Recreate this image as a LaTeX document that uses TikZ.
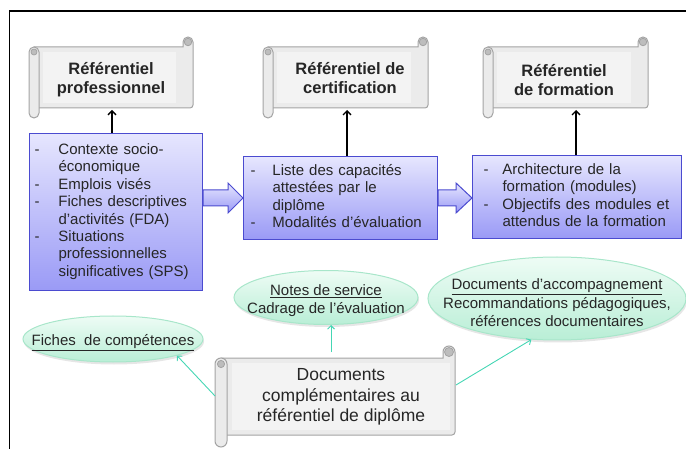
\documentclass[tikz,border=0pt]{standalone}
\usepackage{fontspec}
\setmainfont{Liberation Sans}
\usetikzlibrary{arrows.meta,shadows,shapes.geometric,calc}
\definecolor{txt}{HTML}{262626}
\definecolor{bluetop}{HTML}{E6E6FE}
\definecolor{bluebot}{HTML}{9A9AF6}
\definecolor{blueline}{HTML}{4B4BD0}
\definecolor{scrfill}{HTML}{EBEBEB}
\definecolor{scrinner}{HTML}{F3F3F3}
\definecolor{scrline}{HTML}{A3A3A3}
\definecolor{curlc}{HTML}{BDBDBD}
\definecolor{mintline}{HTML}{A8E6CA}
\definecolor{minttop}{HTML}{EEFCF5}
\definecolor{mintbot}{HTML}{B9EED6}
\definecolor{tealc}{HTML}{45D6B4}
\newcommand\scrolldeco[7]{%
  \pgfmathsetmacro\sxa{#1}%
  \pgfmathsetmacro\sxb{#1+2*#5}%
  \pgfmathsetmacro\sxc{#3-2*#5}%
  \pgfmathsetmacro\sxd{#3}%
  \pgfmathsetmacro\sya{#2}%
  \pgfmathsetmacro\syb{#4}%
  \pgfmathsetmacro\sr{#5}%
  \pgfmathsetmacro\scr{0.6*#5}%
  \pgfmathsetmacro\scrr{0.75*#5}%
  \draw[scrline, line width=1pt, fill=scrfill] (\sxb-\sr,\sya) -- (\sxc,\sya) -- (\sxc,\sya-\sr)
     arc[start angle=180,end angle=0,radius=\sr pt] [rounded corners=3pt] -- (\sxd,\syb)
     -- (\sxb-\sr,\syb) [sharp corners] -- cycle;
  \fill[scrinner] (\sxb+#6,\sya+5) rectangle (\sxd-#7,\syb-5);
  \draw[scrline, line width=1pt, fill=scrfill] (\sxa,\sya+\sr) arc[start angle=180,end angle=0,radius=\sr pt]
     -- (\sxb,\syb+\sr) arc[start angle=0,end angle=-180,radius=\sr pt] -- cycle;
  \draw[scrline, line width=0.8pt, fill=curlc] (\sxa+\sr,\sya+\sr) circle[radius=\scr pt];
  \draw[scrline, line width=0.8pt, fill=curlc] (\sxd-\sr,\sya-\sr) circle[radius=\scrr pt];
}
\tikzset{
  every node/.style={text=txt},
  titletext/.style={font=\fontsize{16.5}{19}\selectfont\bfseries, align=center, inner sep=0pt},
  bigtitle/.style={font=\fontsize{17.5}{20.5}\selectfont, align=center, inner sep=0pt},
  bluebox/.style={draw=blueline, line width=1pt, top color=bluetop, bottom color=bluebot,
     inner ysep=0pt, align=left, font=\fontsize{15}{17.4}\selectfont, anchor=north west},
  blockarr/.style={draw=blueline, line width=1pt, top color=bluetop, bottom color=bluebot, line join=miter},
  mint/.style={ellipse, draw=mintline, line width=1pt, top color=minttop, bottom color=mintbot,
     inner xsep=-30pt, inner ysep=-10pt, font=\fontsize{15}{18.5}\selectfont,
     drop shadow={opacity=0.2, shadow xshift=1pt, shadow yshift=-2.5pt}},
  blk/.style={draw=black, line width=1.3pt, -{Straight Barb[length=4pt,width=8pt]}},
  tealarr/.style={draw=tealc, line width=0.9pt, -{Straight Barb[length=3.5pt,width=7pt]}},
}
\begin{document}
\begin{tikzpicture}[x=1pt,y=-1pt]
\useasboundingbox (0,0) rectangle (686,449);
% frame
\draw[line width=1.2pt] (9.5,449) -- (9.5,11) -- (686,11);

% scrolls
\scrolldeco{29}{47}{193}{108}{5}{4}{17}
\scrolldeco{263}{47}{428}{108}{5}{4}{17}
\scrolldeco{483}{47}{648}{108}{5}{4}{17}
\scrolldeco{215}{358}{455}{435}{6}{5}{5}
\node[titletext] (s1) at (111,80) {Référentiel\\professionnel};
\node[titletext] (s2) at (350,78) {Référentiel de\\certification};
\node[titletext] (s3) at (564,80) {Référentiel\\de formation};
\node[bigtitle] (s4) at (341,397) {Documents\\complémentaires au\\référentiel de diplôme};

% blue boxes
\node[bluebox, minimum width=173pt, minimum height=157pt, inner xsep=5pt, text width=163pt] (b1) at (29,133)
 {\begin{tabular}{@{}p{24pt}@{}l@{}}
 - & Contexte socio-\\
   & économique\\
 - & Emplois visés\\
 - & Fiches descriptives\\
   & d’activités (FDA)\\
 - & Situations\\
   & professionnelles\\
   & significatives (SPS)
 \end{tabular}};
\node[bluebox, minimum width=194pt, minimum height=83pt, inner xsep=7pt, text width=180pt] (b2) at (243,156)
 {\begin{tabular}{@{}p{22pt}@{}l@{}}
 - & Liste des capacités\\
   & attestées par le\\
   & diplôme\\
 - & Modalités d’évaluation
 \end{tabular}};
\node[bluebox, minimum width=209pt, minimum height=83pt, inner xsep=11pt, text width=187pt] (b3) at (472,155)
 {\begin{tabular}{@{}p{19pt}@{}l@{}}
 - & Architecture de la\\
   & formation (modules)\\
 - & Objectifs des modules et\\
   & attendus de la formation
 \end{tabular}};

% block arrows
\draw[blockarr] ($(b1.east |- b2.west)+(0,-8)$) -- ($(b2.west)+(-15,-8)$) -- ($(b2.west)+(-15,-15)$)
  -- (b2.west) -- ($(b2.west)+(-15,15)$) -- ($(b2.west)+(-15,8)$) -- ($(b1.east |- b2.west)+(0,8)$) -- cycle;
\draw[blockarr] ($(b2.east)+(0,-8)$) -- ($(b3.west |- b2.east)+(-16,-8)$) -- ($(b3.west |- b2.east)+(-16,-15)$)
  -- (b3.west |- b2.east) -- ($(b3.west |- b2.east)+(-16,15)$) -- ($(b3.west |- b2.east)+(-16,8)$) -- ($(b2.east)+(0,8)$) -- cycle;

% vertical arrows
\coordinate (a1) at (112,110);
\coordinate (a2) at (347,110);
\coordinate (a3) at (576,110);
\draw[blk] (b1.north -| a1) -- (a1);
\draw[blk] (b2.north -| a2) -- (a2);
\draw[blk] (b3.north -| a3) -- (a3);

% ellipses
\node[mint, minimum width=180pt, minimum height=46pt] (e1) at (113,339)
 {\begin{tabular}{@{}c@{}}\rule{0pt}{19pt}\underline{Fiches\ \ de compétences}\end{tabular}};
\node[mint, minimum width=184pt, minimum height=54pt] (e2) at (326,297.5)
 {\begin{tabular}{@{}c@{}}\rule{0pt}{20pt}\underline{Notes de service}\\Cadrage de l’évaluation\end{tabular}};
\node[mint, minimum width=258pt, minimum height=83pt] (e3) at (557,298.5)
 {\begin{tabular}{@{}c@{}}\rule{0pt}{25pt}\underline{Documents d’accompagnement}\\Recommandations pédagogiques,\\références documentaires\end{tabular}};

% teal connectors
\coordinate (t1) at (215,396);
\coordinate (t2) at (331,352);
\coordinate (t3) at (456,385);
\draw[tealarr] (t1) -- (e1.south east);
\draw[tealarr] (t2) -- (t2 |- e2.south);
\draw[tealarr] (t3) -- (e3.238);
\end{tikzpicture}
\end{document}
